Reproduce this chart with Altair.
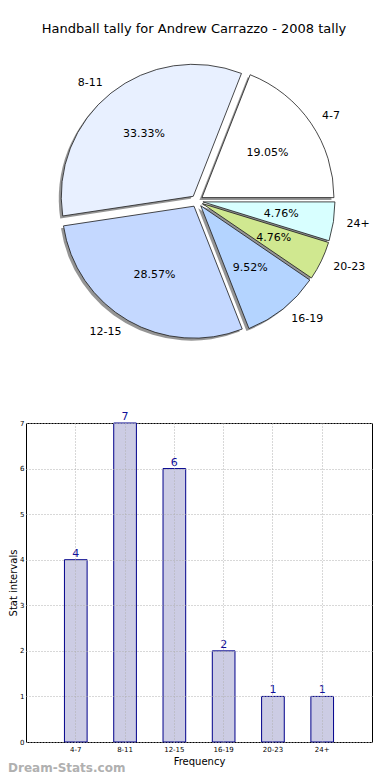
import math
import altair as alt
import pandas as pd

TITLE = "Handball tally for Andrew Carrazzo - 2008 tally"
WATERMARK = "Dream-Stats.com"
categories = ["4-7", "8-11", "12-15", "16-19", "20-23", "24+"]
counts = [4, 7, 6, 2, 1, 1]
slice_colors = ["#ffffff", "#e8f0ff", "#c4d8ff", "#b4d4ff", "#d0e890", "#d8ffff"]
y_ticks = [0, 1, 2, 3, 4, 5, 6, 7]
x_title = "Frequency"
y_title = "Stat intervals"

df = pd.DataFrame({"cat": categories, "count": counts, "order": list(range(len(categories)))})

FONT = "DejaVu Sans"
W = 346
H_PIE = 342
H_BAR = 319
CX, CY, R = 171, 155, 132
EXPLODE = 6
SH_DX, SH_DY = -2.5, 2.5

theta_scale = alt.Scale(domain=[0, 1], nice=False, zero=True, range=[math.pi / 2, math.pi / 2 + 2 * math.pi])

pie_base = (
    alt.Chart(df)
    .transform_window(cum="sum(count)", sort=[alt.SortField("order", order="descending")], frame=[None, 0])
    .transform_joinaggregate(total="sum(count)")
    .transform_calculate(start="(datum.cum - datum.count)/datum.total")
    .transform_calculate(end="datum.cum/datum.total")
    .transform_calculate(mid="PI/2 + 2*PI*(datum.cum - datum.count/2)/datum.total")
    .transform_calculate(pct="format(100*datum.count/datum.total, '.2f') + '%'")
    .transform_calculate(ex=f"{CX} + {EXPLODE}*sin(datum.mid)")
    .transform_calculate(ey=f"{CY} - {EXPLODE}*cos(datum.mid)")
    .transform_calculate(sx=f"datum.ex + ({SH_DX})")
    .transform_calculate(sy=f"datum.ey + ({SH_DY})")
    .transform_calculate(px=f"datum.ex + {0.6 * R}*sin(datum.mid)")
    .transform_calculate(py=f"datum.ey - {0.6 * R}*cos(datum.mid)")
    .transform_calculate(lx=f"datum.ex + {1.1 * R}*sin(datum.mid)")
    .transform_calculate(ly=f"datum.ey - {1.1 * R}*cos(datum.mid)")
)

shadow = pie_base.mark_arc(outerRadius=R, fill="#7a7a7a", opacity=0.8).encode(
    theta=alt.Theta("start:Q", scale=theta_scale, stack=False),
    theta2="end:Q",
    x=alt.X("sx:Q", scale=None, axis=None),
    y=alt.Y("sy:Q", scale=None, axis=None),
)

arcs = pie_base.mark_arc(outerRadius=R, stroke="#1a1a1a", strokeWidth=0.8).encode(
    theta=alt.Theta("start:Q", scale=theta_scale, stack=False),
    theta2="end:Q",
    x=alt.X("ex:Q", scale=None, axis=None),
    y=alt.Y("ey:Q", scale=None, axis=None),
    fill=alt.Fill("cat:N", scale=alt.Scale(domain=categories, range=slice_colors), legend=None),
)

pct_text = pie_base.mark_text(font=FONT, fontSize=11, color="black").encode(
    x=alt.X("px:Q", scale=None, axis=None),
    y=alt.Y("py:Q", scale=None, axis=None),
    text="pct:N",
)

lab_right = pie_base.transform_filter("sin(datum.mid) >= 0").mark_text(
    font=FONT, fontSize=11, color="black", align="left"
).encode(
    x=alt.X("lx:Q", scale=None, axis=None),
    y=alt.Y("ly:Q", scale=None, axis=None),
    text="cat:N",
)
lab_left = pie_base.transform_filter("sin(datum.mid) < 0").mark_text(
    font=FONT, fontSize=11, color="black", align="right"
).encode(
    x=alt.X("lx:Q", scale=None, axis=None),
    y=alt.Y("ly:Q", scale=None, axis=None),
    text="cat:N",
)

pie = alt.layer(shadow, arcs, pct_text, lab_right, lab_left).properties(
    width=W,
    height=H_PIE,
    view=alt.ViewBackground(stroke="transparent"),
    title=alt.TitleParams(TITLE, font=FONT, fontSize=13, fontWeight="normal", color="black", offset=10, dx=-5),
)

bar_base = alt.Chart(df).encode(
    x=alt.X(
        "cat:N",
        sort=categories,
        scale=alt.Scale(paddingInner=0.54, paddingOuter=0.78),
        axis=alt.Axis(
            title=x_title, labelAngle=0, labelFontSize=7, labelFont=FONT, labelColor="black",
            titleFont=FONT, titleFontSize=10, titleFontWeight="normal", titleColor="black",
            titlePadding=4, labelPadding=3, ticks=False, tickSize=0, domain=False,
            grid=True, gridDash=[1, 2], gridColor="#b0b0b0", gridWidth=1, bandPosition=0.5, zindex=1,
        ),
    ),
    y=alt.Y(
        "count:Q",
        scale=alt.Scale(nice=False, zero=True),
        axis=alt.Axis(
            values=y_ticks, title=y_title, labelFontSize=7, labelFont=FONT, labelColor="black",
            titleFont=FONT, titleFontSize=10, titleFontWeight="normal", titleColor="black",
            titlePadding=1, labelPadding=2, ticks=False, tickSize=0, domain=False,
            grid=True, gridDash=[1, 2], gridColor="#b0b0b0", gridWidth=1, zindex=1,
        ),
    ),
)

bars = bar_base.mark_bar(fill="#ccccE4", stroke="#00008b", strokeWidth=1)
bar_labels = bar_base.mark_text(font=FONT, fontSize=11, color="#10109a", baseline="bottom", dy=-1).encode(
    text="count:Q"
)

bar = alt.layer(bars, bar_labels).properties(
    width=W,
    height=H_BAR,
    view=alt.ViewBackground(stroke="black", strokeWidth=1),
)

chart = alt.vconcat(pie, bar, spacing=21).properties(
    padding={"left": 0, "top": 14, "right": 0, "bottom": 0},
    title=alt.TitleParams(
        WATERMARK, orient="bottom", anchor="start", frame="bounds", font=FONT, fontSize=12,
        fontWeight="bold", color="#b0b0b0", offset=-4,
    ),
).configure(font=FONT)

chart.save("out.html", embed_options={"renderer": "svg", "actions": False})
